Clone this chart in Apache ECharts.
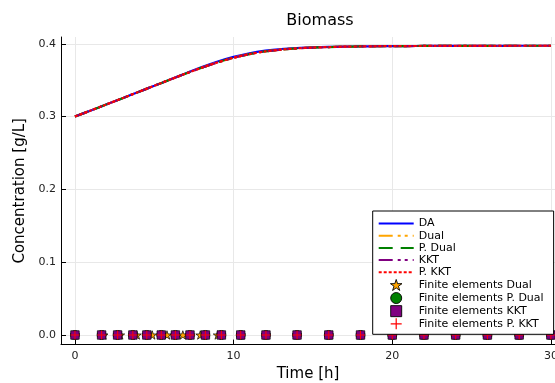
<!DOCTYPE html>
<html>
<head>
<meta charset="utf-8">
<script src="https://cdn.jsdelivr.net/npm/echarts@6/dist/echarts.min.js"></script>
<style>
  html, body { margin: 0; padding: 0; background: #fff; }
  #chart { width: 555px; height: 383px; }
</style>
</head>
<body>
<div id="chart"></div>
<script>
// time grid of the simulated curves [h]
const timeHours = [0, 1, 2, 3, 4, 5, 6, 7, 8, 9, 10, 11, 12, 13, 14, 15, 16, 17, 18, 19, 20,
	21, 22, 23, 24, 25, 26, 27, 28, 29, 30]

// biomass [g/L], direct approach
const daBiomass = [0.3000, 0.3084, 0.3168, 0.3253, 0.3338, 0.3423, 0.3509, 0.3595, 0.3680, 0.3756,
	0.3820, 0.3870, 0.3905, 0.3928, 0.3942, 0.3951, 0.3957, 0.3961, 0.3964, 0.3966, 0.3968,
	0.3969, 0.3970, 0.3971, 0.3971, 0.3972, 0.3972, 0.3972, 0.3973, 0.3973, 0.3973]

// biomass [g/L], collocation solutions (Dual, P. Dual, KKT, P. KKT overlap)
const dualBiomass = [0.3000, 0.3084, 0.3168, 0.3253, 0.3338, 0.3423, 0.3508, 0.3592, 0.3672, 0.3745,
	0.3808, 0.3858, 0.3895, 0.3920, 0.3937, 0.3948, 0.3955, 0.3960, 0.3963, 0.3966, 0.3968,
	0.3969, 0.3970, 0.3971, 0.3971, 0.3972, 0.3972, 0.3972, 0.3973, 0.3973, 0.3973]
const pDualBiomass = dualBiomass
const kktBiomass = dualBiomass
const pKktBiomass = dualBiomass

// finite element boundaries [h]
const dualElements = [0, 1.8, 2.85, 3.9, 4.87, 5.8, 6.8, 7.9, 9.0, 10.45, 12.04, 14, 16, 18, 20,
	22, 24, 26, 28, 30]
const kktElements = [0, 1.68, 2.69, 3.65, 4.53, 5.44, 6.33, 7.25, 8.22, 9.23, 10.45, 12.04, 14, 16,
	18, 20, 22, 24, 26, 28, 30]
const pDualElements = kktElements
const pKktElements = kktElements

const xTicks = [0, 10, 20, 30]
const yTicks = [0, 0.1, 0.2, 0.3, 0.4]

const lineNames = ['DA', 'Dual', 'P. Dual', 'KKT', 'P. KKT']
const markerNames = ['Finite elements Dual', 'Finite elements P. Dual', 'Finite elements KKT',
	'Finite elements P. KKT']

const font = 'DejaVu Sans'
const STAR = 'path://M10,0 L12.245,6.91 L19.51,6.91 L13.633,11.18 L15.88,18.09 L10,13.82 L4.12,18.09 L6.367,11.18 L0.49,6.91 L7.755,6.91 Z'
const CIRCLE = 'path://M5,0 A5,5 0 1 1 5,10 A5,5 0 1 1 5,0 Z'
const SQUARE = 'path://M0,0 H10 V10 H0 Z'
const PLUS = 'path://M4.45,0 H5.55 V4.45 H10 V5.55 H5.55 V10 H4.45 V5.55 H0 V4.45 H4.45 Z'

const zip = (xs, ys) => xs.map((x, i) => [x, ys[i]])
const atZero = (xs) => xs.map((x) => [x, 0])

function lineSeries(name, values, color, type) {
	return {
		name,
		type: 'line',
		data: zip(timeHours, values),
		smooth: 0.3,
		symbol: 'none',
		showSymbol: false,
		lineStyle: { color, width: 2.2, type },
		itemStyle: { color },
		z: 2
	}
}

function markerSeries(name, times, symbol, size, color, border) {
	return {
		name,
		type: 'scatter',
		data: atZero(times),
		symbol,
		symbolSize: size,
		symbolKeepAspect: true,
		itemStyle: { color, borderColor: border, borderWidth: border === 'none' ? 0 : 0.7, opacity: 1 },
		z: 3
	}
}

const chart = echarts.init(document.getElementById('chart'), null, { renderer: 'canvas' })

chart.setOption({
	animation: false,
	backgroundColor: '#fff',
	title: {
		text: 'Biomass',
		left: 315,
		top: 8,
		textAlign: 'center',
		textStyle: { fontFamily: font, fontSize: 16, fontWeight: 'normal', color: '#000' }
	},
	grid: { left: 61, right: 0, top: 37, bottom: 38.4, containLabel: false, outerBoundsMode: 'none' },
	xAxis: {
		type: 'value',
		min: -0.88,
		max: 30.26,
		name: 'Time [h]',
		nameLocation: 'middle',
		nameGap: 17,
		nameTextStyle: { fontFamily: font, fontSize: 15, color: '#000' },
		axisLine: { show: true, onZero: false, lineStyle: { color: '#000', width: 1 } },
		axisTick: { show: true, inside: true, length: 5, customValues: xTicks, lineStyle: { color: '#000' } },
		axisLabel: { customValues: xTicks, margin: 6, fontFamily: font, fontSize: 11, color: '#222' },
		splitLine: { show: true, lineStyle: { color: '#e8e8e8', width: 1 } }
	},
	yAxis: {
		type: 'value',
		min: -0.0132,
		max: 0.4093,
		name: 'Concentration [g/L]',
		nameLocation: 'middle',
		nameGap: 33,
		nameTextStyle: { fontFamily: font, fontSize: 15, color: '#000' },
		axisLine: { show: true, onZero: false, lineStyle: { color: '#000', width: 1 } },
		axisTick: { show: true, inside: true, length: 5, customValues: yTicks, lineStyle: { color: '#000' } },
		axisLabel: {
			customValues: yTicks,
			margin: 5,
			fontFamily: font,
			fontSize: 11,
			color: '#222',
			formatter: (v) => v.toFixed(1)
		},
		splitLine: { show: true, lineStyle: { color: '#e8e8e8', width: 1 } }
	},
	legend: {
		orient: 'vertical',
		left: 372.7,
		top: 211,
		padding: [7, 10, 5, 5],
		itemWidth: 35,
		itemHeight: 11,
		itemGap: 1.2,
		backgroundColor: '#fff',
		borderColor: '#000',
		borderWidth: 1,
		borderRadius: 0,
		selectedMode: false,
		textStyle: { fontFamily: font, fontSize: 11, lineHeight: 11, color: '#000' },
		data: [
			...lineNames.map((name) => ({ name, itemStyle: { opacity: 0 } })),
			...markerNames.map((name) => ({ name, itemStyle: { borderWidth: 0.9 } }))
		]
	},
	series: [
		lineSeries('DA', daBiomass, '#0000ff', 'solid'),
		lineSeries('Dual', dualBiomass, '#ffa500', [14, 5, 3, 4, 3, 5]),
		lineSeries('P. Dual', pDualBiomass, '#008000', [14, 8]),
		lineSeries('KKT', kktBiomass, '#800080', [14, 5, 3, 4, 3, 5]),
		lineSeries('P. KKT', pKktBiomass, '#ff0000', [3, 2]),
		markerSeries('Finite elements Dual', dualElements, STAR, 9, '#ffa500', '#000'),
		markerSeries('Finite elements P. Dual', pDualElements, CIRCLE, 9, '#008000', '#000'),
		markerSeries('Finite elements KKT', kktElements, SQUARE, 8.5, '#800080', '#000'),
		markerSeries('Finite elements P. KKT', pKktElements, PLUS, 9, '#ff0000', 'none')
	]
})

window.addEventListener('resize', () => chart.resize())
</script>
</body>
</html>
